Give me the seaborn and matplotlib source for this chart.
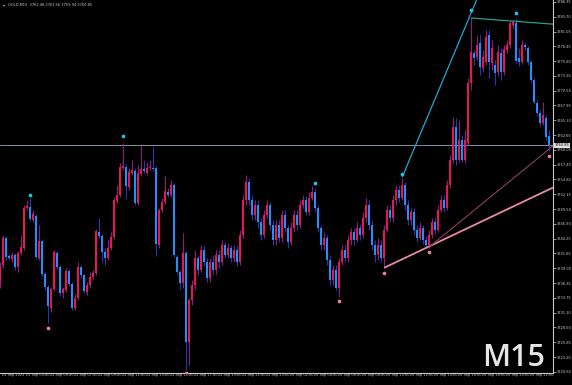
import matplotlib
matplotlib.use("Agg")
import matplotlib.pyplot as plt
import matplotlib.transforms as mtransforms
import numpy as np
import seaborn as sns

# ---- data (GOLD, M15, 25-26 Sep 2025) ----
opens = [
    3736.4, 3739.6, 3744.4, 3741.2, 3740.7, 3741.4, 3739.3, 3741.7, 3742.6, 3749.7,
    3749.9, 3747.6, 3748.3, 3740.9, 3743.9, 3738.0, 3735.7, 3732.0, 3735.3, 3741.7,
    3739.3, 3734.6, 3735.2, 3738.5, 3736.2, 3732.0, 3733.8, 3739.3, 3737.8, 3734.8,
    3736.1, 3737.5, 3738.2, 3745.5, 3744.8, 3741.9, 3740.9, 3742.6, 3744.6, 3751.0,
    3752.1, 3756.9, 3757.0, 3753.5, 3756.0, 3756.3, 3750.6, 3755.8, 3756.7, 3756.0,
    3756.9, 3756.9, 3756.9, 3743.2, 3749.4, 3750.8, 3752.6, 3752.1, 3753.8, 3741.0,
    3738.4, 3736.4, 3741.7, 3725.9, 3733.4, 3736.1, 3740.9, 3738.7, 3742.3, 3740.1,
    3737.3, 3740.1, 3738.7, 3741.4, 3740.1, 3743.1, 3741.4, 3742.6, 3740.9, 3742.3,
    3740.1, 3744.9, 3751.2, 3754.4, 3751.2, 3748.5, 3750.3, 3747.3, 3744.9, 3748.5,
    3750.3, 3746.7, 3744.1, 3746.7, 3744.4, 3748.5, 3746.2, 3743.7, 3746.2, 3748.5,
    3746.7, 3750.3, 3751.2, 3749.0, 3751.5, 3752.6, 3749.7, 3746.2, 3743.1, 3744.4,
    3740.5, 3737.0, 3738.7, 3735.5, 3740.1, 3742.3, 3740.9, 3744.1, 3745.5, 3744.1,
    3746.2, 3744.9, 3748.0, 3750.3, 3746.7, 3743.1, 3741.4, 3743.1, 3740.9, 3745.8,
    3749.4, 3748.0, 3751.2, 3752.9, 3751.5, 3753.8, 3750.3, 3747.6, 3749.0, 3745.8,
    3744.4, 3746.2, 3744.1, 3743.1, 3744.9, 3747.3, 3745.8, 3749.4, 3751.2, 3749.7,
    3753.8, 3758.3, 3764.1, 3758.3, 3761.8, 3758.3, 3761.3, 3771.9, 3777.3, 3776.6,
    3779.1, 3774.6, 3775.7, 3780.5, 3775.5, 3775.1, 3773.9, 3777.3, 3773.9, 3777.8,
    3778.7, 3782.3, 3782.6, 3776.4, 3775.7, 3778.7, 3778.2, 3775.7, 3772.5, 3768.4,
    3766.6, 3764.8, 3765.7, 3762.48,
]
highs = [
    3740.1, 3744.9, 3744.8, 3741.6, 3741.9, 3741.7, 3742.1, 3744.9, 3750.3, 3751.2,
    3751.5, 3749.4, 3748.7, 3746.7, 3744.2, 3738.4, 3736.1, 3735.7, 3742.3, 3742.1,
    3739.6, 3735.7, 3739.1, 3738.9, 3736.6, 3734.5, 3740.1, 3739.6, 3738.2, 3736.6,
    3738.4, 3738.7, 3746.0, 3748.0, 3745.1, 3742.6, 3744.1, 3745.5, 3751.7, 3753.8,
    3757.7, 3761.3, 3757.6, 3756.9, 3758.3, 3756.9, 3757.4, 3760.9, 3758.3, 3757.9,
    3758.3, 3760.6, 3757.2, 3749.7, 3751.5, 3755.4, 3753.3, 3754.7, 3754.2, 3741.4,
    3738.7, 3745.3, 3742.1, 3733.7, 3737.0, 3742.3, 3741.4, 3743.1, 3743.1, 3740.9,
    3740.9, 3741.4, 3742.3, 3742.3, 3744.1, 3743.7, 3743.5, 3743.1, 3743.1, 3743.0,
    3745.8, 3752.0, 3755.6, 3755.1, 3752.0, 3751.2, 3751.2, 3748.0, 3749.4, 3751.2,
    3750.8, 3747.6, 3747.6, 3747.6, 3749.4, 3749.4, 3746.7, 3747.3, 3749.4, 3749.4,
    3751.2, 3752.0, 3751.9, 3752.6, 3753.6, 3753.3, 3750.3, 3746.7, 3745.5, 3744.9,
    3741.4, 3739.6, 3739.6, 3740.9, 3743.1, 3743.1, 3744.9, 3746.2, 3746.2, 3747.3,
    3746.9, 3749.0, 3751.5, 3751.2, 3747.6, 3744.1, 3744.4, 3744.1, 3746.7, 3750.3,
    3750.3, 3752.0, 3753.8, 3753.8, 3755.1, 3754.4, 3751.2, 3749.7, 3749.7, 3746.7,
    3747.3, 3746.7, 3744.8, 3745.8, 3748.0, 3748.0, 3750.3, 3752.0, 3752.0, 3754.7,
    3759.2, 3765.9, 3765.7, 3765.4, 3762.7, 3763.6, 3772.8, 3783.7, 3777.8, 3780.5,
    3780.5, 3777.8, 3781.4, 3781.4, 3779.6, 3776.0, 3778.7, 3778.2, 3778.7, 3779.6,
    3783.0, 3783.1, 3783.5, 3778.2, 3779.6, 3779.2, 3778.5, 3776.0, 3772.8, 3768.9,
    3767.2, 3768.6, 3766.3, 3763.56,
]
lows = [
    3735.5, 3739.1, 3740.5, 3740.5, 3740.1, 3738.7, 3738.4, 3741.4, 3742.3, 3749.4,
    3747.4, 3747.3, 3740.7, 3740.5, 3737.7, 3735.2, 3729.3, 3731.3, 3735.0, 3738.9,
    3734.1, 3733.8, 3734.8, 3735.9, 3731.6, 3731.6, 3733.4, 3737.3, 3734.6, 3734.3,
    3735.5, 3737.1, 3737.8, 3744.4, 3740.1, 3739.6, 3740.5, 3742.3, 3744.2, 3750.6,
    3751.7, 3756.5, 3751.3, 3752.9, 3755.6, 3750.3, 3750.3, 3755.4, 3756.0, 3755.6,
    3756.5, 3756.3, 3741.2, 3742.6, 3749.0, 3750.5, 3751.7, 3751.7, 3741.0, 3737.8,
    3735.2, 3735.5, 3721.0, 3721.8, 3732.5, 3735.2, 3737.9, 3738.4, 3739.4, 3736.6,
    3736.6, 3737.9, 3738.0, 3739.1, 3739.6, 3740.9, 3740.9, 3740.1, 3740.1, 3739.4,
    3739.6, 3744.4, 3750.3, 3750.3, 3747.6, 3747.6, 3746.2, 3744.1, 3744.4, 3748.0,
    3745.8, 3743.1, 3743.1, 3743.7, 3743.7, 3745.5, 3742.6, 3743.1, 3745.5, 3745.8,
    3746.2, 3749.7, 3748.5, 3748.5, 3751.2, 3749.0, 3745.5, 3742.3, 3742.3, 3739.6,
    3736.1, 3736.1, 3735.2, 3733.9, 3739.6, 3740.1, 3740.1, 3743.1, 3743.1, 3743.7,
    3744.1, 3744.4, 3747.3, 3745.8, 3742.3, 3740.1, 3740.5, 3740.1, 3739.1, 3745.5,
    3747.3, 3747.3, 3750.3, 3750.8, 3751.2, 3749.4, 3746.7, 3746.7, 3744.9, 3743.7,
    3744.1, 3743.3, 3742.6, 3742.6, 3744.4, 3745.1, 3745.5, 3749.0, 3749.0, 3749.4,
    3753.3, 3757.7, 3757.4, 3757.9, 3757.9, 3757.7, 3760.9, 3770.7, 3775.1, 3776.0,
    3773.4, 3773.9, 3775.1, 3772.8, 3774.3, 3771.6, 3773.2, 3772.5, 3773.4, 3777.3,
    3778.2, 3781.7, 3775.5, 3775.0, 3775.3, 3777.8, 3775.1, 3772.1, 3768.2, 3766.1,
    3764.3, 3764.5, 3761.8, 3759.94,
]
closes = [
    3739.3, 3744.4, 3741.0, 3740.9, 3741.4, 3739.3, 3741.7, 3742.8, 3749.7, 3750.1,
    3747.8, 3748.7, 3741.0, 3743.9, 3738.0, 3735.7, 3732.3, 3735.3, 3741.9, 3739.3,
    3734.6, 3735.3, 3738.5, 3736.2, 3732.0, 3733.8, 3739.3, 3737.8, 3735.0, 3736.1,
    3737.5, 3738.2, 3745.6, 3744.8, 3741.9, 3740.9, 3742.6, 3744.6, 3751.2, 3752.1,
    3757.0, 3757.2, 3753.6, 3756.1, 3756.5, 3750.6, 3756.0, 3756.7, 3756.3, 3756.9,
    3757.0, 3756.7, 3743.3, 3749.4, 3750.8, 3752.8, 3752.1, 3753.8, 3741.4, 3738.4,
    3736.4, 3741.7, 3725.9, 3733.4, 3736.1, 3740.9, 3738.7, 3742.3, 3740.1, 3737.3,
    3740.1, 3738.7, 3741.4, 3740.1, 3743.1, 3741.4, 3742.6, 3740.9, 3742.3, 3740.1,
    3744.9, 3751.2, 3754.4, 3751.2, 3748.5, 3750.3, 3747.3, 3744.9, 3748.5, 3750.3,
    3746.7, 3744.1, 3746.7, 3744.4, 3748.5, 3746.2, 3743.7, 3746.2, 3748.5, 3746.7,
    3750.3, 3751.2, 3749.0, 3751.5, 3752.6, 3749.7, 3746.2, 3743.1, 3744.4, 3740.5,
    3737.0, 3738.7, 3735.5, 3740.1, 3742.3, 3740.9, 3744.1, 3745.5, 3744.1, 3746.2,
    3744.9, 3748.0, 3750.3, 3746.7, 3743.1, 3741.4, 3743.1, 3740.9, 3745.8, 3749.4,
    3748.0, 3751.2, 3752.9, 3751.5, 3753.8, 3750.3, 3747.6, 3749.0, 3745.8, 3744.4,
    3746.2, 3744.1, 3743.1, 3744.9, 3747.3, 3745.8, 3749.4, 3751.2, 3749.7, 3753.8,
    3758.3, 3764.1, 3758.3, 3761.8, 3758.3, 3761.8, 3771.9, 3777.5, 3776.4, 3778.7,
    3774.8, 3776.6, 3780.1, 3775.7, 3778.2, 3773.7, 3777.5, 3773.9, 3778.0, 3778.7,
    3782.6, 3782.8, 3775.9, 3775.7, 3778.7, 3778.3, 3775.7, 3772.5, 3768.6, 3766.6,
    3764.8, 3766.3, 3762.4, 3760.85,
]

time_labels = [
    "25 Sep 2025", "25 Sep 03:00", "25 Sep 05:00", "25 Sep 07:00", "25 Sep 09:00",
    "25 Sep 11:00", "25 Sep 13:00", "25 Sep 15:00", "25 Sep 17:00", "25 Sep 19:00",
    "25 Sep 21:00", "25 Sep 23:00", "26 Sep 02:00", "26 Sep 04:00", "26 Sep 06:00",
    "26 Sep 08:00", "26 Sep 10:00", "26 Sep 12:00", "26 Sep 14:00", "26 Sep 16:00",
    "26 Sep 18:00", "26 Sep 20:00", "26 Sep 22:00",
]
bars_per_label = 8

price_ticks = [
    3720.60, 3723.20, 3725.85, 3728.50, 3731.10, 3733.75, 3736.35, 3739.00, 3741.65,
    3744.25, 3746.90, 3749.50, 3752.15, 3754.80, 3757.40, 3760.05, 3762.65, 3765.30,
    3767.95, 3770.55, 3773.20, 3775.80, 3778.45, 3781.05, 3783.70, 3786.35,
]
last_price = 3760.85
header = "GOLD,M15  3762.48 3763.56 3759.94 3760.85"
timeframe = "M15"

up_fractal_bars = [10, 41, 105, 134, 157, 172]
up_fractal_prices = [3752.0, 3762.5, 3754.2, 3755.8, 3784.9, 3784.4]
down_fractal_bars = [16, 62, 113, 128, 143, 183]
down_fractal_prices = [3728.4, 3720.4, 3733.2, 3738.1, 3741.9, 3759.0]

# trend lines: two anchor points (bar, price), drawn as rays to the right
trend_bars = {"cyan": [134, 157], "teal": [157, 172], "pink": [128, 143], "rose": [143, 183]}
trend_prices = {"cyan": [3755.2, 3784.4], "teal": [3783.5, 3782.9],
                "pink": [3739.1, 3742.9], "rose": [3742.8, 3760.2]}
trend_style = {"cyan": ("#1fa6d6", 0.9), "teal": ("#23a08f", 0.9),
               "pink": ("#e98aa6", 1.3), "rose": ("#8e3d63", 0.8)}

# ---- style ----
sns.set_theme(style="dark", rc={
    "figure.facecolor": "black", "axes.facecolor": "black",
    "axes.edgecolor": "#c8c8c8", "text.color": "#c8c8c8",
    "xtick.color": "#c8c8c8", "ytick.color": "#c8c8c8",
})
plt.rcParams["font.family"] = ["DejaVu Sans"]

bull_body, bear_body = "#ee1258", "#1e90ff"
bull_wick, bear_wick = "#95158a", "#2b34b8"

fig = plt.figure(figsize=(5.72, 3.85), dpi=100, facecolor="black")
ax = fig.add_axes([0, 12 / 385, 553 / 572, 373 / 385])
ax.set_facecolor("black")

o = np.array(opens)
h = np.array(highs)
l = np.array(lows)
c = np.array(closes)
x = np.arange(len(o))
bull = c >= o

ax.vlines(x, l, h, colors=np.where(bull, bull_wick, bear_wick), linewidth=0.75, zorder=2)
body_low = np.minimum(o, c)
body_h = np.maximum(np.abs(c - o), 0.18)
ax.bar(x, body_h, bottom=body_low, width=0.62,
       color=np.where(bull, bull_body, bear_body), linewidth=0, zorder=3)

ax.axhline(last_price, color="#8393a3", linewidth=0.7, zorder=1)

x_right = len(o) + 0.3
for key, bars in trend_bars.items():
    p = trend_prices[key]
    slope = (p[1] - p[0]) / (bars[1] - bars[0])
    col, lw = trend_style[key]
    ax.plot([bars[0], x_right], [p[0], p[0] + slope * (x_right - bars[0])],
            color=col, linewidth=lw, zorder=4, solid_capstyle="butt")

sns.scatterplot(x=up_fractal_bars, y=up_fractal_prices, color="#23c4ea", s=7,
                linewidth=0, ax=ax, zorder=5)
sns.scatterplot(x=down_fractal_bars, y=down_fractal_prices, color="#ef7f93", s=7,
                linewidth=0, ax=ax, zorder=5)

ax.set_xlim(-0.1, x_right)
ax.set_ylim(3720.6 - 0.2, 3786.7)

# axes frame like the terminal: right price scale, bottom time scale
for side in ["left", "top"]:
    ax.spines[side].set_visible(False)
for side in ["right", "bottom"]:
    ax.spines[side].set_color("#c8c8c8")
    ax.spines[side].set_linewidth(0.8)

ax.yaxis.tick_right()
ax.set_yticks(price_ticks)
ax.set_yticklabels([f"{v:.2f}" for v in price_ticks])
ax.tick_params(axis="y", direction="out", length=2, width=0.5, pad=1, labelsize=2.6,
               colors="#c8c8c8")

ax.set_xticks(np.arange(len(time_labels)) * bars_per_label)
ax.set_xticklabels(time_labels, ha="left")
ax.tick_params(axis="x", direction="out", length=4.5, width=0.5, pad=-4.2, labelsize=2.5,
               colors="#c8c8c8")
shift = mtransforms.ScaledTranslation(1.5 / 72, 0, fig.dpi_scale_trans)
for lab in ax.get_xticklabels():
    lab.set_transform(lab.get_transform() + shift)
ax.grid(False)

# current price tag on the scale
ax.text(1.003, last_price, f"{last_price:.2f}", transform=ax.get_yaxis_transform(),
        fontsize=2.6, color="black", va="center", ha="left",
        bbox=dict(boxstyle="square,pad=0.25", facecolor="#e0e0e0", edgecolor="none"),
        clip_on=False, zorder=6)

fig.text(3 / 572, 1 - 5 / 385, "\u25BE", fontsize=2.6, color="#c8c8c8", va="center")
fig.text(8 / 572, 1 - 5 / 385, header, fontsize=2.6, color="#c8c8c8", va="center")
fig.text(545 / 572, 1 - 366 / 385, timeframe, fontsize=22, color="#e6e6e6",
         ha="right", va="baseline", family=["Open Sans", "DejaVu Sans"], weight="semibold")

fig.savefig("out.png", dpi=100, facecolor="black")
